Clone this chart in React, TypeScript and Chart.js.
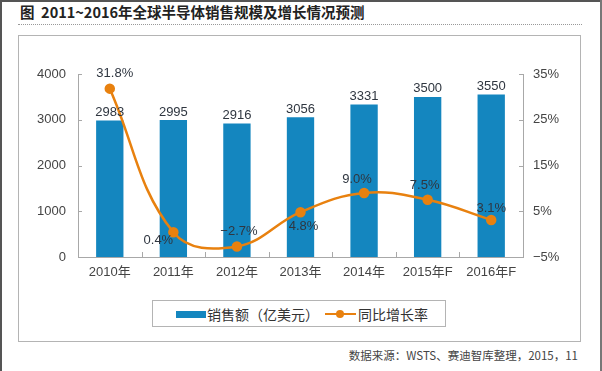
import React, { useEffect, useRef } from "react";
import { Chart, registerables } from "chart.js";

Chart.register(...registerables);

const categories = ["2010年", "2011年", "2012年", "2013年", "2014年", "2015年F", "2016年F"];
const salesValues = [2983, 2995, 2916, 3056, 3331, 3500, 3550];
const growthValues = [31.8, 0.4, -2.7, 4.8, 9.0, 7.5, 3.1];
const growthLabels = ["31.8%", "0.4%", "−2.7%", "4.8%", "9.0%", "7.5%", "3.1%"];
// label offset (dx, dy) relative to each line point
const growthLabelDx = [5, -15, 2, 3, -7, -3, 0];
const growthLabelDy = [-15, 8, -15, 14, -14, -14, -12];

const BAR_COLOR = "#1486bf";
const LINE_COLOR = "#e8810f";
const AXIS_COLOR = "#a8a8a8";
const NUM_FONT = '"Liberation Sans", "Noto Sans CJK SC", sans-serif';

const labelPlugin = {
  id: "valueLabels",
  afterDatasetsDraw(chart: any) {
    const ctx = chart.ctx;
    ctx.save();
    ctx.font = "13px " + NUM_FONT;
    ctx.fillStyle = "#2f3640";
    ctx.textAlign = "center";
    ctx.textBaseline = "middle";
    chart.data.datasets.forEach((ds: any, di: number) => {
      const meta = chart.getDatasetMeta(di);
      meta.data.forEach((el: any, i: number) => {
        if (ds.type === "bar") {
          ctx.fillText(String(salesValues[i]), el.x, el.y - 8);
        } else {
          ctx.fillText(growthLabels[i], el.x + growthLabelDx[i], el.y + growthLabelDy[i]);
        }
      });
    });
    ctx.restore();
  },
};

const innerTicksPlugin = {
  id: "innerTicks",
  afterDraw(chart: any) {
    const ctx = chart.ctx;
    const { left, right, bottom } = chart.chartArea;
    ctx.save();
    ctx.strokeStyle = AXIS_COLOR;
    ctx.lineWidth = 1;
    const y = chart.scales.y;
    y.ticks.forEach((t: any) => {
      const py = Math.round(y.getPixelForValue(t.value)) + 0.5;
      ctx.beginPath();
      ctx.moveTo(left, py);
      ctx.lineTo(left + 4, py);
      ctx.stroke();
    });
    const y1 = chart.scales.y1;
    y1.ticks.forEach((t: any) => {
      const py = Math.round(y1.getPixelForValue(t.value)) + 0.5;
      ctx.beginPath();
      ctx.moveTo(right - 4, py);
      ctx.lineTo(right, py);
      ctx.stroke();
    });
    const x = chart.scales.x;
    for (let i = 1; i < categories.length; i++) {
      const px = Math.round((x.getPixelForValue(i - 1) + x.getPixelForValue(i)) / 2) + 0.5;
      ctx.beginPath();
      ctx.moveTo(px, bottom);
      ctx.lineTo(px, bottom - 5);
      ctx.stroke();
    }
    ctx.restore();
  },
};

export default function App() {
  const canvasRef = useRef<HTMLCanvasElement | null>(null);

  useEffect(() => {
    if (!canvasRef.current) return;
    const chart = new Chart(canvasRef.current, {
      type: "bar",
      data: {
        labels: categories,
        datasets: [
          {
            type: "line" as const,
            label: "同比增长率",
            data: growthValues,
            yAxisID: "y1",
            borderColor: LINE_COLOR,
            backgroundColor: LINE_COLOR,
            borderWidth: 2.5,
            pointRadius: 4,
            pointBackgroundColor: LINE_COLOR,
            pointBorderColor: LINE_COLOR,
            tension: 0.4,
            order: 0,
          },
          {
            type: "bar" as const,
            label: "销售额（亿美元）",
            data: salesValues,
            yAxisID: "y",
            backgroundColor: BAR_COLOR,
            categoryPercentage: 1,
            barPercentage: 0.43,
            order: 1,
          },
        ],
      } as any,
      options: {
        animation: false,
        responsive: false,
        maintainAspectRatio: false,
        layout: { padding: { top: 74, right: 0, bottom: 0, left: 0 } },
        plugins: { legend: { display: false }, tooltip: { enabled: false }, title: { display: false } },
        scales: {
          x: {
            grid: { display: false, drawTicks: false },
            border: { display: true, color: AXIS_COLOR },
            ticks: { color: "#444", font: { size: 13, family: NUM_FONT }, padding: 8 },
            afterFit: (s: any) => { s.height = 43; },
          },
          y: {
            position: "left",
            min: 0,
            max: 4000,
            grid: { display: false, drawTicks: false },
            border: { display: true, color: AXIS_COLOR },
            ticks: {
              stepSize: 1000,
              color: "#444",
              font: { size: 13, family: NUM_FONT },
              padding: 12,
              callback: (v: any) => String(v),
            },
            afterFit: (s: any) => { s.width = 78; },
          },
          y1: {
            position: "right",
            min: -5,
            max: 35,
            grid: { display: false, drawTicks: false },
            border: { display: true, color: AXIS_COLOR },
            ticks: {
              stepSize: 10,
              color: "#444",
              font: { size: 13, family: NUM_FONT },
              padding: 10,
              callback: (v: any) => (v < 0 ? "−" + Math.abs(v) : v) + "%",
            },
            afterFit: (s: any) => { s.width = 79; },
          },
        },
      },
      plugins: [labelPlugin, innerTicksPlugin],
    });
    return () => chart.destroy();
  }, []);

  return (
    <div style={{ position: "fixed", left: 0, top: 0, width: 602, height: 371, background: "#fff", overflow: "hidden" }}>
      {/* outer frame */}
      <div style={{ position: "absolute", left: 0, top: 0, width: 2, height: 371, background: "#555" }} />
      <div style={{ position: "absolute", left: 0, top: 0, width: 602, height: 2, background: "#555" }} />
      <div style={{ position: "absolute", left: 600, top: 0, width: 2, height: 371, background: "#777" }} />
      {/* title */}
      <div
        style={{
          position: "absolute", left: 20, top: 3, fontSize: 14.5, fontWeight: "bold", color: "#222",
          fontFamily: '"Noto Sans CJK SC", sans-serif', lineHeight: "18px", whiteSpace: "pre",
        }}
      >
        {"图  2011~2016年全球半导体销售规模及增长情况预测"}
      </div>
      <div style={{ position: "absolute", left: 18, top: 24, width: 564, height: 0, borderTop: "1px dotted #999" }} />
      {/* panel */}
      <div style={{ position: "absolute", left: 18, top: 35, width: 561, height: 305, border: "1px solid #b4b4b4" }} />
      <canvas ref={canvasRef} width={602} height={300} style={{ position: "absolute", left: 0, top: 0, width: 602, height: 300 }} />
      {/* legend */}
      <div style={{ position: "absolute", left: 152, top: 300, width: 292, height: 25, border: "1px solid #b4b4b4", background: "#fff" }}>
        <div style={{ position: "absolute", left: 23, top: 10, width: 30, height: 7, background: BAR_COLOR }} />
        <div style={{ position: "absolute", left: 54, top: 3, fontSize: 14, lineHeight: "20px", color: "#333", fontFamily: '"Noto Sans CJK SC", sans-serif', whiteSpace: "pre" }}>
          销售额（亿美元）
        </div>
        <div style={{ position: "absolute", left: 172, top: 12, width: 31, height: 2, background: LINE_COLOR }} />
        <div style={{ position: "absolute", left: 183, top: 9, width: 8, height: 8, borderRadius: 4, background: LINE_COLOR }} />
        <div style={{ position: "absolute", left: 205, top: 3, fontSize: 14, lineHeight: "20px", color: "#333", fontFamily: '"Noto Sans CJK SC", sans-serif', whiteSpace: "pre" }}>
          同比增长率
        </div>
      </div>
      {/* source */}
      <div
        style={{
          position: "absolute", right: 24, top: 347, fontSize: 11.5, lineHeight: "16px", color: "#444",
          fontFamily: '"Noto Sans CJK SC", sans-serif', whiteSpace: "pre",
        }}
      >
        数据来源：WSTS、赛迪智库整理，2015，11
      </div>
    </div>
  );
}
